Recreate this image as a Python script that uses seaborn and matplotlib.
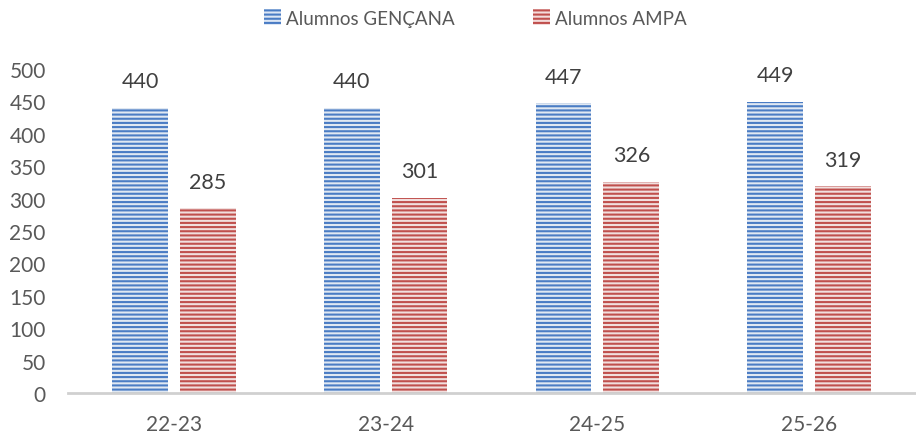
import matplotlib
matplotlib.use("Agg")
import matplotlib.pyplot as plt
import seaborn as sns
import pandas as pd
from matplotlib.patches import Patch

# Data
cursos = ["22-23", "23-24", "24-25", "25-26"]
gencana = [440, 440, 447, 449]
ampa = [285, 301, 326, 319]
series = ["Alumnos GENÇANA", "Alumnos AMPA"]

df = pd.DataFrame({
    "curso": cursos * 2,
    "valor": gencana + ampa,
    "serie": [series[0]] * 4 + [series[1]] * 4,
})

sns.set_style("white")
plt.rcParams["font.family"] = ["Lato", "DejaVu Sans"]
plt.rcParams["hatch.linewidth"] = 1.5

stripe = {series[0]: "#4a7cc4", series[1]: "#c0504d"}
fill = {series[0]: "#dde7f5", series[1]: "#f4dcdb"}

fig = plt.figure(figsize=(9.16, 4.35), dpi=100)
ax = fig.add_axes([68 / 916, 1 - 394 / 435, (915 - 68) / 916, (394 - 70) / 435])

sns.barplot(data=df, x="curso", y="valor", hue="serie", hue_order=series,
            palette=fill, width=0.64, gap=0.18, ax=ax, legend=False)

for cont, s in zip(ax.containers, series):
    for bar in cont:
        bar.set_hatch("----")
        bar.set_edgecolor(stripe[s])
        bar.set_linewidth(0)
    ax.bar_label(cont, padding=12, fontsize=15.5, color="#404040")

ax.set_ylim(0, 500)
ax.set_yticks(range(0, 501, 50))
ax.set_xlabel("")
ax.set_ylabel("")
ax.tick_params(axis="both", labelsize=15, colors="#595959", length=0)
ax.tick_params(axis="y", pad=16)
ax.tick_params(axis="x", pad=15)
for side in ["top", "left", "right"]:
    ax.spines[side].set_visible(False)
ax.spines["bottom"].set_color("#d0d0d0")
ax.spines["bottom"].set_linewidth(2)

handles = [Patch(facecolor=fill[s], edgecolor=stripe[s], hatch="----", linewidth=0, label=s)
           for s in series]
fig.legend(handles=handles, loc="upper center", bbox_to_anchor=(0.519, 1.015), ncol=2,
           frameon=False, fontsize=13.5, handlelength=0.9, handleheight=0.9,
           handletextpad=0.25, columnspacing=4.2, labelcolor="#595959")

fig.savefig("out.png", dpi=100)
